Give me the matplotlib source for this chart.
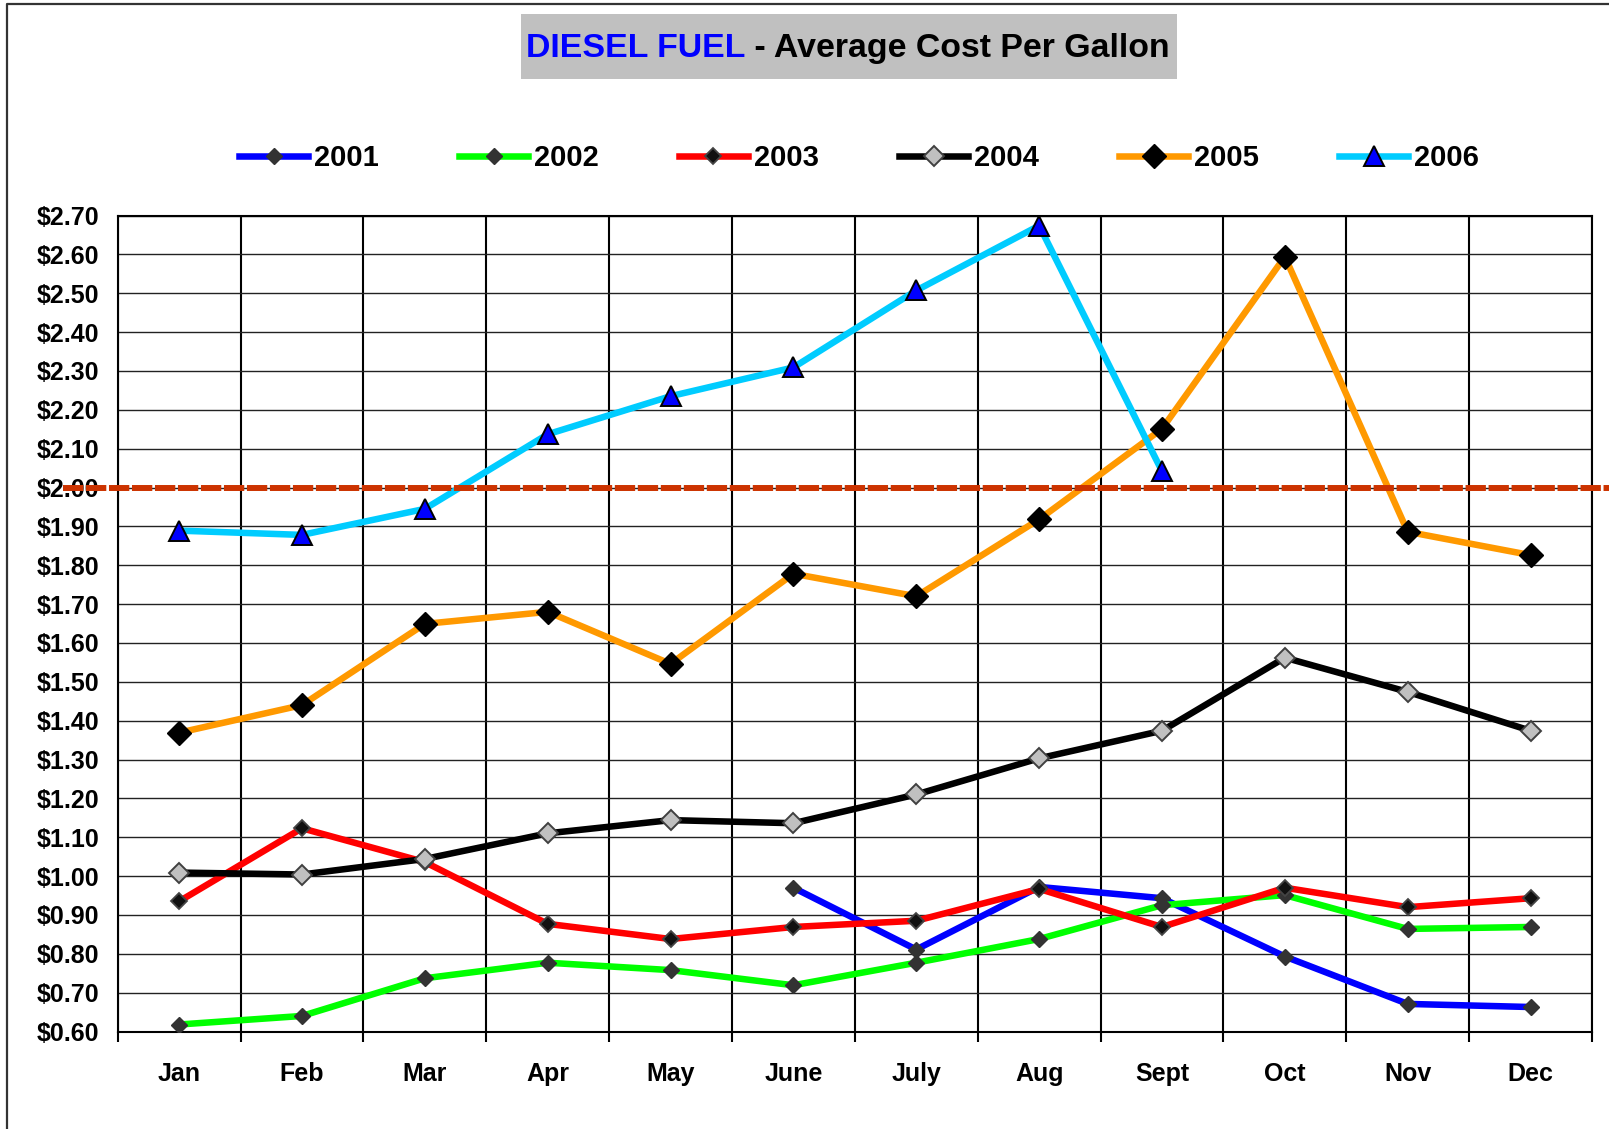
import numpy as np
import matplotlib
matplotlib.use("Agg")
import matplotlib.pyplot as plt
from matplotlib.lines import Line2D
from matplotlib.patches import Rectangle
import matplotlib.transforms as mtransforms

plt.rcParams['font.family'] = ['Liberation Sans', 'DejaVu Sans']
plt.rcParams['font.weight'] = 'bold'

months = ['Jan', 'Feb', 'Mar', 'Apr', 'May', 'June', 'July', 'Aug', 'Sept', 'Oct', 'Nov', 'Dec']
nan = np.nan
y2001 = [nan, nan, nan, nan, nan, 0.970, 0.811, 0.972, 0.943, 0.793, 0.671, 0.663]
y2002 = [0.618, 0.640, 0.737, 0.777, 0.758, 0.719, 0.777, 0.838, 0.925, 0.951, 0.864, 0.869]
y2003 = [0.935, 1.123, 1.036, 0.877, 0.838, 0.869, 0.885, 0.967, 0.869, 0.970, 0.920, 0.943]
y2004 = [1.009, 1.004, 1.044, 1.110, 1.144, 1.136, 1.210, 1.303, 1.374, 1.562, 1.474, 1.374]
y2005 = [1.369, 1.440, 1.649, 1.680, 1.546, 1.778, 1.720, 1.918, 2.151, 2.594, 1.886, 1.826]
y2006 = [1.889, 1.878, 1.945, 2.137, 2.235, 2.309, 2.507, 2.674, 2.042, nan, nan, nan]
ref_level = 2.00
yticks = np.round(np.arange(0.60, 2.701, 0.10), 2)

W, H = 1609, 1129
fig = plt.figure(figsize=(W / 100, H / 100), dpi=100)
ax = fig.add_axes([117.7 / W, 1 - 1031.5 / H, (1592 - 117.7) / W, (1031.5 - 215.5) / H])

x = np.arange(len(months))
lw = 4.7
series = [
    ('2001', y2001, '#0000FF', dict(marker='D', ms=8, mfc='#333333', mec='#333333', mew=1)),
    ('2002', y2002, '#00FF00', dict(marker='D', ms=8, mfc='#333333', mec='#333333', mew=1)),
    ('2003', y2003, '#FF0000', dict(marker='D', ms=8, mfc='#111111', mec='#444444', mew=1.3)),
    ('2004', y2004, '#000000', dict(marker='D', ms=10, mfc='#C0C0C0', mec='#404040', mew=1.4)),
    ('2005', y2005, '#FF9900', dict(marker='D', ms=12, mfc='#000000', mec='#000000', mew=1)),
    ('2006', y2006, '#00CCFF', dict(marker='^', ms=14, mfc='#0000FF', mec='#000000', mew=1.4)),
]
for i, (name, vals, col, mk) in enumerate(series):
    ax.plot(x, vals, color=col, lw=lw, label=name, zorder=3 + i,
            solid_joinstyle='round', **mk)

# $2.00 reference dashes, running past the plot edges
trans = mtransforms.blended_transform_factory(ax.transAxes, ax.transData)
ax.plot([-0.037, 1.02], [ref_level, ref_level], transform=trans, color='#CC3300',
        lw=4.3, dashes=[3.4, 0.45], dash_capstyle='butt', clip_on=False, zorder=20)

ax.set_xlim(-0.5, len(months) - 0.5)
ax.set_ylim(yticks[0], yticks[-1])
ax.set_xticks(np.arange(-0.5, len(months)))
ax.set_xticklabels([])
ax.set_xticks(x, minor=True)
ax.set_xticklabels(months, minor=True, fontsize=18, fontweight='bold')
ax.tick_params(axis='x', which='major', length=7, width=1.5, color='black')
ax.tick_params(axis='x', which='minor', length=0, pad=22)
ax.set_yticks(yticks)
ax.set_yticklabels(['$%.2f' % v for v in yticks], fontsize=18, fontweight='bold')
ax.tick_params(axis='y', length=0, pad=13)
ax.grid(axis='x', which='major', color='black', lw=1.5)
ax.grid(axis='y', color='#222222', lw=1.0)
for s in ax.spines.values():
    s.set_color('black')
    s.set_linewidth(1.5)

leg = ax.legend(loc='center', bbox_to_anchor=(0.503, 1.070), ncol=6, frameon=False,
                prop=dict(size=21, weight='bold'), handlelength=2.35,
                handletextpad=0.22, columnspacing=2.75, borderaxespad=0)

# title box with two-colour text
fig.patches.append(Rectangle((521 / W, 1 - 78.7 / H), (1177 - 521) / W, (78.7 - 14) / H,
                             transform=fig.transFigure, facecolor='#C0C0C0',
                             edgecolor='none', zorder=0))
t1 = fig.text(526 / W, 1 - 57 / H, 'DIESEL FUEL', color='#0000FF', fontsize=24.4,
              fontweight='bold', va='baseline', ha='left')
fig.canvas.draw()
bb = t1.get_window_extent(renderer=fig.canvas.get_renderer())
fig.text(bb.x1 / W, 1 - 57 / H, ' - Average Cost Per Gallon', color='black',
         fontsize=24.4, fontweight='bold', va='baseline', ha='left')

# outer chart border (left and top)
fig.add_artist(Line2D([6.7 / W, 6.7 / W, 1.0], [0, 1 - 4 / H, 1 - 4 / H],
                      transform=fig.transFigure, color='#333333', lw=1.6))

fig.savefig('out.png', dpi=100)
